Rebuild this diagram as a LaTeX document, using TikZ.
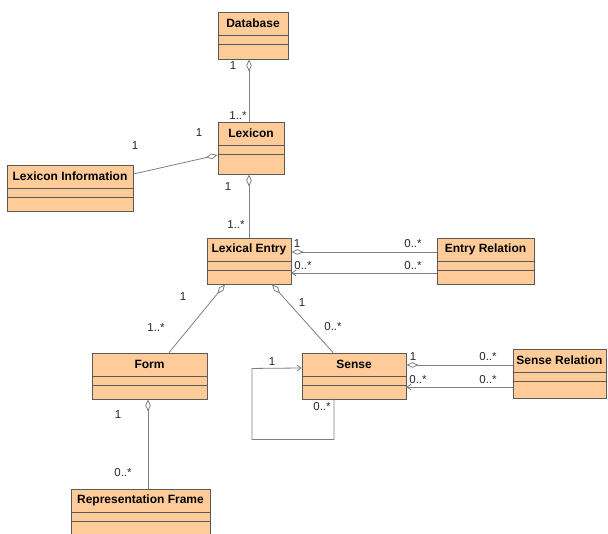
\documentclass[tikz,border=0pt]{standalone}
\usepackage{fontspec}
\setmainfont{Liberation Sans}
\usetikzlibrary{arrows.meta}
\definecolor{classfill}{HTML}{FFCC99}
\definecolor{classline}{HTML}{5A5A5A}
\definecolor{assocline}{HTML}{7F7F7F}

\begin{document}
\begin{tikzpicture}[x=1pt,y=-1pt]
            \tikzstyle{classbox}=[draw=classline, fill=classfill, line width=0.9pt, inner sep=0pt]
            \tikzstyle{classname}=[anchor=north, minimum height=23.5pt, inner sep=0pt, font=\bfseries\fontsize{12}{13}\selectfont]
            \tikzstyle{sep}=[draw=classline, line width=0.8pt]
            \tikzstyle{assoc}=[draw=assocline, line width=0.8pt]
            \tikzstyle{mult}=[inner sep=0pt, font=\fontsize{11.5}{12}\selectfont, text=black!85]
            \tikzstyle{agg}=[{Diamond[open,length=12pt,width=5.5pt]}-]
            \tikzstyle{nav}=[-{Straight Barb[length=4pt,width=6pt]}]

            \useasboundingbox (0,0) rectangle (608,534);

            % classes
            \node[classbox, minimum width=70, minimum height=47] (db) at (253,35.5) {};
            \node[classbox, minimum width=66, minimum height=52] (lex) at (251,148) {};
            \node[classbox, minimum width=126, minimum height=46] (lexinfo) at (70,188) {};
            \node[classbox, minimum width=84, minimum height=46] (entry) at (249,261) {};
            \node[classbox, minimum width=97, minimum height=46] (entryrel) at (485.5,261) {};
            \node[classbox, minimum width=115, minimum height=46] (form) at (149.5,376) {};
            \node[classbox, minimum width=104, minimum height=46] (sense) at (354,376) {};
            \node[classbox, minimum width=93, minimum height=49] (senserel) at (559.5,373.5) {};
            \node[classbox, minimum width=139, minimum height=51] (repframe) at (140.5,514.5) {};

            % class names
            \node[classname] (dbname) at (db.north) {Database};
            \node[classname] (lexname) at (lex.north) {Lexicon};
            \node[classname] (lexinfoname) at (lexinfo.north) {Lexicon Information};
            \node[classname] (entryname) at (entry.north) {Lexical Entry};
            \node[classname] (entryrelname) at (entryrel.north) {Entry Relation};
            \node[classname] (formname) at (form.north) {Form};
            \node[classname] (sensename) at (sense.north) {Sense};
            \node[classname] (senserelname) at (senserel.north) {Sense Relation};
            \node[classname] (repframename) at (repframe.north) {Representation Frame};

            % attribute and operation rows
            \foreach \cls in {db,lex,lexinfo,entry,entryrel,form,sense,senserel,repframe} {
                \draw[sep] ([yshift=-23.5]\cls.north west) -- ([yshift=-23.5]\cls.north east);
                \draw[sep] ([yshift=-32.5]\cls.north west) -- ([yshift=-32.5]\cls.north east);
            }

            % aggregations
            \draw[assoc, agg] ([xshift=-4]db.south) -- ([xshift=-2]lex.north);
            \draw[assoc, agg] ([yshift=-7]lex.west) -- ([yshift=14]lexinfo.east);
            \draw[assoc, agg] ([xshift=-2]lex.south) -- (entry.north);
            \draw[assoc, agg] ([xshift=-24]entry.south) -- ([xshift=19.5]form.north);
            \draw[assoc, agg] ([xshift=23]entry.south) -- ([xshift=-21]sense.north);
            \draw[assoc, agg] ([xshift=-1.5]form.south) -- ([xshift=7.5]repframe.north);

            % relations
            \draw[assoc, agg] ([yshift=9]entry.east) -- ([yshift=9]entryrel.west);
            \draw[assoc, nav] ([yshift=-12]entryrel.west) -- ([yshift=-12]entry.east);
            \draw[assoc, agg] ([yshift=11]sense.east) -- ([yshift=8.5]senserel.west);
            \draw[assoc, nav] ([yshift=-13.5]senserel.west) -- ([yshift=-11]sense.east);

            % sense to itself
            \draw[assoc, nav] ([xshift=-20]sense.south) -- ++(0,40) -| ++(-82,-71) -- ([yshift=8]sense.west);

            % multiplicities
            \node[mult] (m1) at (233,66) {1};
            \node[mult] (m2) at (238,116) {1..*};
            \node[mult] (m3) at (135,146) {1};
            \node[mult] (m4) at (199,133) {1};
            \node[mult] (m5) at (228,187) {1};
            \node[mult] (m6) at (236,225) {1..*};
            \node[mult] (m7) at (297,244) {1};
            \node[mult] (m8) at (413,244) {0..*};
            \node[mult] (m9) at (303,266) {0..*};
            \node[mult] (m10) at (413,266) {0..*};
            \node[mult] (m11) at (183,297) {1};
            \node[mult] (m12) at (156,328) {1..*};
            \node[mult] (m13) at (302,303) {1};
            \node[mult] (m14) at (333,327) {0..*};
            \node[mult] (m15) at (413,357) {1};
            \node[mult] (m16) at (488,357) {0..*};
            \node[mult] (m17) at (418,380) {0..*};
            \node[mult] (m18) at (488,380) {0..*};
            \node[mult] (m19) at (272,362) {1};
            \node[mult] (m20) at (322,407) {0..*};
            \node[mult] (m21) at (118,415) {1};
            \node[mult] (m22) at (123,473) {0..*};
\end{tikzpicture}
\end{document}
